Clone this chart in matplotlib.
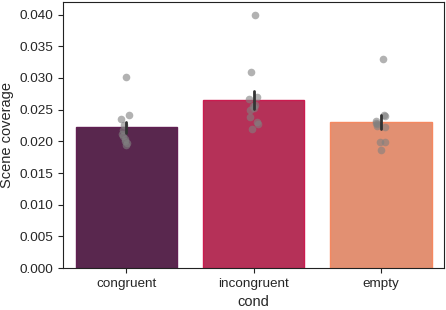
import numpy as np
import pandas as pd
import matplotlib
matplotlib.use("Agg")
import matplotlib.pyplot as plt
import seaborn as sns

categories = ["congruent", "incongruent", "empty"]
congruent_vals = [0.0302, 0.0242, 0.0236, 0.0226, 0.0218, 0.0212, 0.0208, 0.0204, 0.0200, 0.0198, 0.0195]
incongruent_vals = [0.0400, 0.0309, 0.0270, 0.0266, 0.0258, 0.0255, 0.0252, 0.0249, 0.0239, 0.0230, 0.0228, 0.0219]
empty_vals = [0.0330, 0.0242, 0.0240, 0.0232, 0.0229, 0.0227, 0.0223, 0.0224, 0.0199, 0.0199, 0.0186]

rows = []
for c, vals in zip(categories, [congruent_vals, incongruent_vals, empty_vals]):
    for v in vals:
        rows.append({"cond": c, "Scene coverage": v})
df = pd.DataFrame(rows)

sns.set_style("ticks")
plt.rcParams["font.family"] = ["Liberation Sans", "DejaVu Sans"]

fig = plt.figure(figsize=(4.46, 3.10), dpi=100)
ax = fig.add_axes([0.141, 0.135, 0.855, 0.859])
np.random.seed(1)
sns.barplot(data=df, x="cond", y="Scene coverage", order=categories,
            palette="rocket", hue="cond", legend=False, ax=ax,
            errorbar="se", err_kws={"color": "#333333", "linewidth": 2.0})
bar_lines = list(ax.lines)
edge_cols = sns.color_palette("rocket", 3)
for p, ec in zip(ax.patches, edge_cols):
    p.set_edgecolor(ec)
    p.set_linewidth(1.0)
sns.stripplot(data=df, x="cond", y="Scene coverage", order=categories,
              color="gray", alpha=0.6, jitter=0.04, size=5.5, ax=ax, zorder=3)
for ln in bar_lines:
    ln.set_zorder(6)
ax.set_yticks(np.arange(0, 0.0401, 0.005))
ax.set_yticklabels([f"{t:.3f}" for t in np.arange(0, 0.0401, 0.005)])
ax.tick_params(labelsize=9.7, color="#222222")
for s in ax.spines.values():
    s.set_visible(True)
    s.set_color("#222222")
ax.set_xlabel("cond", fontsize=10.5)
ax.set_ylabel("Scene coverage", fontsize=10.5)
fig.savefig("out.png", dpi=100)
